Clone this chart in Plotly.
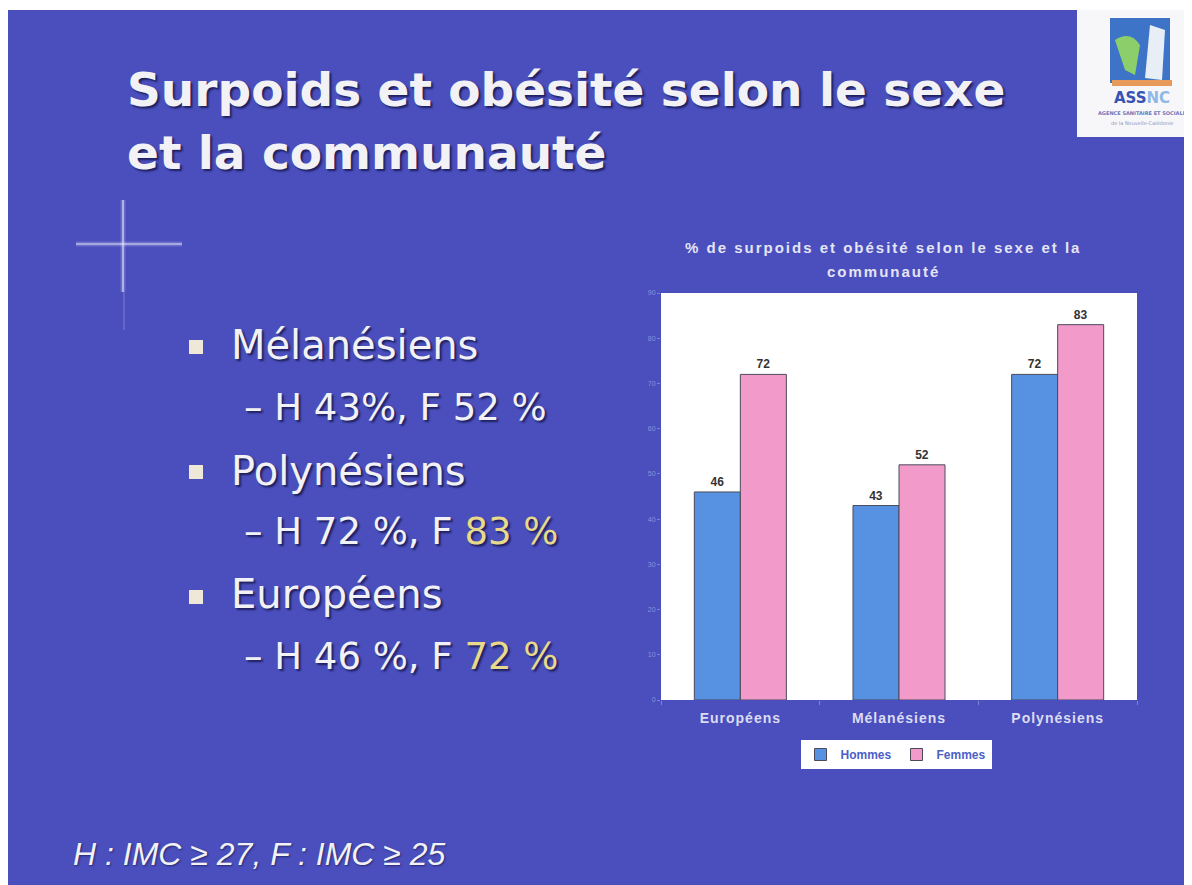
import plotly.graph_objects as go

# ---------------- data ----------------
categories = ["Européens", "Mélanésiens", "Polynésiens"]
hommes = [46, 43, 72]
femmes = [72, 52, 83]
y_ticks = [0, 10, 20, 30, 40, 50, 60, 70, 80, 90]

groups = ["Mélanésiens", "Polynésiens", "Européens"]
h_vals = ["43%", "72 %", "46 %"]
f_vals = ["52 %", "83 %", "72 %"]
f_highlight = [False, True, True]

slide_title = ["Surpoids et obésité selon le sexe", "et la communauté"]
chart_title = ["% de surpoids et obésité selon le sexe et la", "communauté"]
footnote = "H : IMC ≥ 27, F : IMC ≥ 25"

# ---------------- geometry helpers ----------------
# the page body has an 8px margin: figure origin sits at page (8, 8)
OFF = 8
W, H = 1192, 885
PLOT_X0, PLOT_X1, PLOT_Y0, PLOT_Y1 = 661, 1137, 293, 700   # page pixels
L = PLOT_X0 - OFF
T = PLOT_Y0 - OFF
R = W - (PLOT_X1 - OFF)
B = H - (PLOT_Y1 - OFF)
PW = W - L - R
PH = H - T - B


def px(x):
    return ((x - OFF) - L) / PW


def py(y):
    return (H - B - (y - OFF)) / PH


BLUE_BG = "#4a4fbd"
TXT = "#f2f2f6"
YEL = "#e9d98a"
SHADOW = "2px 2px 2px rgba(15,15,60,0.75)"

fig = go.Figure()
fig.add_trace(go.Bar(
    name="Hommes", x=categories, y=hommes,
    marker=dict(color="#5792e2", line=dict(color="#4a4a5a", width=1)),
    text=hommes, texttemplate="<b>%{text}</b>", textposition="outside",
    textfont=dict(family="Liberation Sans", size=12, color="#333333"),
    cliponaxis=False,
))
fig.add_trace(go.Bar(
    name="Femmes", x=categories, y=femmes,
    marker=dict(color="#f29bcb", line=dict(color="#4a4a5a", width=1)),
    text=femmes, texttemplate="<b>%{text}</b>", textposition="outside",
    textfont=dict(family="Liberation Sans", size=12, color="#333333"),
    cliponaxis=False,
))

shapes = []
# slide background (white border at top/left)
shapes.append(dict(type="rect", xref="paper", yref="paper", x0=px(8), x1=px(W + 20),
                   y0=py(H + 20), y1=py(10), fillcolor=BLUE_BG, line=dict(width=0), layer="below"))
# chart white plot area
shapes.append(dict(type="rect", xref="paper", yref="paper", x0=0, x1=1, y0=0, y1=1,
                   fillcolor="white", line=dict(width=0), layer="below"))
# sparkle decoration
for w, op in [(6, 0.10), (3, 0.25), (1.2, 0.75)]:
    shapes.append(dict(type="line", xref="paper", yref="paper", x0=px(76), x1=px(182),
                       y0=py(244), y1=py(244), line=dict(color=f"rgba(235,235,255,{op})", width=w),
                       layer="below"))
    shapes.append(dict(type="line", xref="paper", yref="paper", x0=px(123), x1=px(123),
                       y0=py(200), y1=py(292), line=dict(color=f"rgba(235,235,255,{op})", width=w),
                       layer="below"))
shapes.append(dict(type="line", xref="paper", yref="paper", x0=px(124), x1=px(124),
                   y0=py(292), y1=py(330), line=dict(color="rgba(235,235,255,0.15)", width=2),
                   layer="below"))
# logo box
shapes.append(dict(type="rect", xref="paper", yref="paper", x0=px(1077), x1=px(W + 20),
                   y0=py(137), y1=py(10), fillcolor="#f7f7fa", line=dict(width=0), layer="below"))
shapes.append(dict(type="rect", xref="paper", yref="paper", x0=px(1110), x1=px(1170),
                   y0=py(83), y1=py(18), fillcolor="#3d74c8", line=dict(width=0), layer="below"))
shapes.append(dict(type="path", xref="paper", yref="paper",
                   path=(f"M {px(1115)},{py(40)} Q {px(1130)},{py(30)} {px(1140)},{py(45)} "
                         f"L {px(1135)},{py(75)} L {px(1125)},{py(70)} Z"),
                   fillcolor="#8ccf6a", line=dict(width=0), layer="below"))
shapes.append(dict(type="path", xref="paper", yref="paper",
                   path=(f"M {px(1150)},{py(25)} L {px(1165)},{py(30)} L {px(1162)},{py(80)} "
                         f"L {px(1145)},{py(78)} Z"),
                   fillcolor="#e8eef5", line=dict(width=0), layer="below"))
shapes.append(dict(type="rect", xref="paper", yref="paper", x0=px(1112), x1=px(1172),
                   y0=py(86), y1=py(80), fillcolor="#e79a5a", line=dict(width=0), layer="below"))

# bullet squares
bullet_y = [347, 472, 597]
for by in bullet_y:
    shapes.append(dict(type="rect", xref="paper", yref="paper", x0=px(189), x1=px(203),
                       y0=py(by + 7), y1=py(by - 7), fillcolor="#efe7d8",
                       line=dict(width=0), layer="below"))

annotations = []
# slide title
for text, yc in zip(slide_title, [89, 152]):
    annotations.append(dict(xref="paper", yref="paper", x=px(125), y=py(yc), xanchor="left",
                            yanchor="middle", showarrow=False, text=f"<b>{text}</b>",
                            font=dict(family="DejaVu Sans", size=47, color=TXT, shadow=SHADOW)))

# bullets
group_y = [345, 471, 594]
sub_y = [407, 531, 656]
for g, h, f, hl, gy, sy in zip(groups, h_vals, f_vals, f_highlight, group_y, sub_y):
    annotations.append(dict(xref="paper", yref="paper", x=px(229), y=py(gy), xanchor="left",
                            yanchor="middle", showarrow=False, text=g,
                            font=dict(family="DejaVu Sans", size=40, color=TXT, shadow=SHADOW)))
    ftxt = f"<span style='color:{YEL}'>{f}</span>" if hl else f
    annotations.append(dict(xref="paper", yref="paper", x=px(242), y=py(sy), xanchor="left",
                            yanchor="middle", showarrow=False, text=f"– H {h}, F {ftxt}",
                            font=dict(family="DejaVu Sans", size=37, color=TXT, shadow=SHADOW)))

# chart title
for text, yc in zip(chart_title, [247, 271]):
    annotations.append(dict(xref="paper", yref="paper", x=px(883), y=py(yc), xanchor="center",
                            yanchor="middle", showarrow=False,
                            text=f"<span style='letter-spacing:2px'><b>{text}</b></span>",
                            font=dict(family="Liberation Sans", size=15, color="#e4e4f4")))

# footnote
annotations.append(dict(xref="paper", yref="paper", x=px(71), y=py(854), xanchor="left",
                        yanchor="middle", showarrow=False, text=f"<i>{footnote}</i>",
                        font=dict(family="Liberation Sans", size=32, color=TXT,
                                  shadow="1px 1px 2px rgba(15,15,60,0.6)")))

# logo text
annotations.append(dict(xref="paper", yref="paper", x=px(1142), y=py(98), xanchor="center",
                        yanchor="middle", showarrow=False,
                        text="<b>ASS<span style='color:#8fb8e6'>NC</span></b>",
                        font=dict(family="DejaVu Sans", size=15, color="#3552b5")))
annotations.append(dict(xref="paper", yref="paper", x=px(1142), y=py(113), xanchor="center",
                        yanchor="middle", showarrow=False,
                        text="<b>AGENCE SANITAIRE ET SOCIALE</b>",
                        font=dict(family="DejaVu Sans", size=5, color="#6a78b8")))
annotations.append(dict(xref="paper", yref="paper", x=px(1142), y=py(123), xanchor="center",
                        yanchor="middle", showarrow=False,
                        text="de la Nouvelle-Calédonie",
                        font=dict(family="DejaVu Sans", size=5, color="#8a94c4")))

fig.update_layout(
    width=W, height=H,
    margin=dict(l=L, r=R, t=T, b=B, pad=0),
    paper_bgcolor="white",
    plot_bgcolor="rgba(0,0,0,0)",
    barmode="group",
    bargap=0.42,
    bargroupgap=0,
    shapes=shapes,
    annotations=annotations,
    showlegend=True,
    legend=dict(orientation="h", x=px(896), xanchor="center", y=py(740), yanchor="top",
                bgcolor="white", borderwidth=0,
                font=dict(family="Liberation Sans", size=12, color="#4b5fc6", weight="bold"),
                itemwidth=30, tracegroupgap=0),
    font=dict(family="Liberation Sans"),
)
fig.update_yaxes(range=[0, 90], tickvals=y_ticks, showgrid=False, zeroline=False,
                 showline=False, ticks="outside", ticklen=3,
                 tickcolor="rgba(225,225,255,0.35)",
                 tickfont=dict(size=7, color="rgba(225,225,255,0.45)"))
fig.update_xaxes(showgrid=False, showline=False, ticks="outside", tickson="boundaries",
                 ticklen=4, tickcolor="rgba(255,255,255,0.3)", ticklabelstandoff=8,
                 tickvals=categories,
                 ticktext=[f"<span style='letter-spacing:1px'>{c}</span>" for c in categories],
                 tickfont=dict(family="Liberation Sans", size=14, color="#dcdcf2", weight="bold"))

fig.write_html("out.html")
